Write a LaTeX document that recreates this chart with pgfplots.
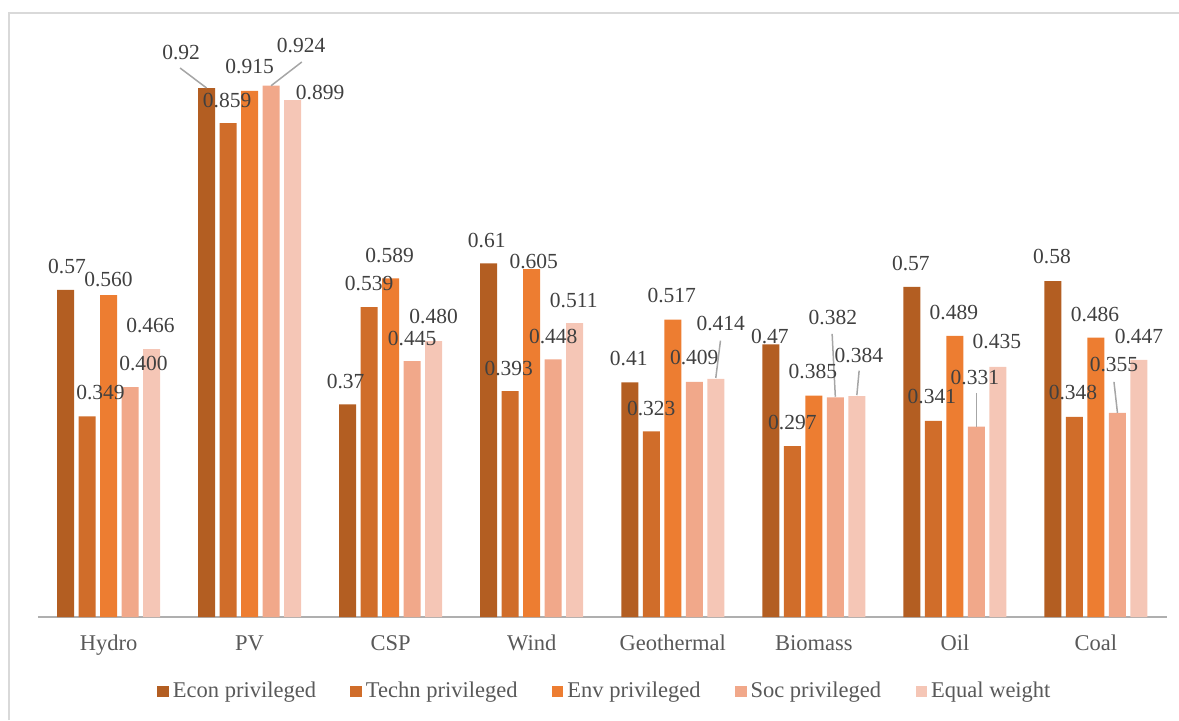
\documentclass[border=0pt]{standalone}
\usepackage{fontspec}
\setmainfont{Liberation Serif}
\usepackage{pgfplots}
\usepackage{pgfplotstable}
\pgfplotsset{compat=1.18}

\definecolor{econ}{HTML}{B35E22}
\definecolor{techn}{HTML}{D06D2A}
\definecolor{env}{HTML}{ED7D31}
\definecolor{soc}{HTML}{F1A88A}
\definecolor{equal}{HTML}{F5C6B6}
\definecolor{lbl}{HTML}{404040}
\definecolor{cat}{HTML}{595959}
\definecolor{axisgray}{HTML}{AFAFAF}
\definecolor{bordergray}{HTML}{D9D9D9}
\definecolor{leadgray}{HTML}{A6A6A6}

% x y label dx(pt) dy(pt)
\pgfplotstableread{
x y label dx dy
0 0.569 0.57 0.75 11.5
1 0.920 0.92 -12.75 18
2 0.370 0.37 -1 11.5
3 0.615 0.61 -1 11.65
4 0.408 0.41 -0.5 11.85
5 0.474 0.47 -0.5 4.15
6 0.574 0.57 -0.5 11.5
7 0.584 0.58 -0.5 12.25
}\econdata
\pgfplotstableread{
x y label dx dy
0 0.349 0.349 6.75 12
1 0.859 0.859 -0.5 11.5
2 0.539 0.539 0 11.75
3 0.393 0.393 -0.75 11.5
4 0.323 0.323 0 11.5
5 0.297 0.297 0 12
6 0.341 0.341 -0.75 12
7 0.348 0.348 -0.75 12
}\techndata
\pgfplotstableread{
x y label dx dy
0 0.560 0.560 0 7.75
1 0.915 0.915 0 12
2 0.589 0.589 -0.5 11.5
3 0.605 0.605 1 4
4 0.517 0.517 -0.5 12
5 0.385 0.385 -0.5 12
6 0.489 0.489 -0.5 11.5
7 0.486 0.486 -0.5 11.75
}\envdata
\pgfplotstableread{
x y label dx dy
0 0.400 0.400 6.75 12
1 0.924 0.924 15 20
2 0.445 0.445 0 11.5
3 0.448 0.448 0 11.5
4 0.409 0.409 0 12
5 0.382 0.382 -1.25 40
6 0.331 0.331 -0.75 24.5
7 0.355 0.355 -1.75 24
}\socdata
\pgfplotstableread{
x y label dx dy
0 0.466 0.466 -0.5 12
1 0.899 0.899 13.75 4
2 0.480 0.480 0 12.5
3 0.511 0.511 -0.5 11.5
4 0.414 0.414 2.5 27.5
5 0.384 0.384 1 20.5
6 0.435 0.435 -0.5 12.5
7 0.447 0.447 0 11.5
}\equaldata

\begin{document}
\begin{tikzpicture}
\useasboundingbox (-19pt,-51.5pt) rectangle (570.5pt,308.5pt);
\draw[bordergray, line width=1pt] (-14.5pt,-51.5pt) -- (-14.5pt,302pt) -- (570.5pt,302pt);
\begin{axis}[
  scale only axis,
  width=564.25pt, height=287.5pt,
  xmin=-0.5, xmax=7.5, ymin=0, ymax=1,
  clip=false,
  ybar,
  bar width=8.5pt,
  axis x line*=bottom,
  hide y axis,
  axis line style={axisgray, line width=1pt, -},
  xtick={0,...,7},
  xticklabels={Hydro,PV,CSP,Wind,Geothermal,Biomass,Oil,Coal},
  major tick length=0pt,
  xticklabel style={anchor=base, yshift=-16.5pt, font=\rmfamily\fontsize{11.25}{13}\selectfont, text=cat},
  nodes near coords,
  point meta=explicit symbolic,
  visualization depends on={\thisrow{dx} \as \dx},
  visualization depends on={\thisrow{dy} \as \dy},
  nodes near coords style={anchor=center, xshift=\dx pt, yshift=\dy pt, font=\rmfamily\fontsize{10.75}{12}\selectfont, text=lbl, inner sep=0pt},
  legend columns=5,
  legend image code/.code={\fill[#1] (0pt,-2.875pt) rectangle (5.75pt,2.875pt);},
  legend style={draw=none, at={(0.5033,-0.1296)}, anchor=center,
    font=\rmfamily\fontsize{11.25}{13}\selectfont, text=cat,
    /tikz/every even column/.append style={column sep=15.25pt}},
]
\addplot[fill=econ, draw=none, bar shift=-21.5pt] table[x=x, y=y, meta=label]{\econdata};
\addplot[fill=techn, draw=none, bar shift=-10.75pt] table[x=x, y=y, meta=label]{\techndata};
\addplot[fill=env, draw=none, bar shift=0pt] table[x=x, y=y, meta=label]{\envdata};
\addplot[fill=soc, draw=none, bar shift=10.75pt] table[x=x, y=y, meta=label]{\socdata};
\addplot[fill=equal, draw=none, bar shift=21.5pt] table[x=x, y=y, meta=label]{\equaldata};
\legend{Econ privileged, Techn privileged, Env privileged, Soc privileged, Equal weight}
% leader lines
\draw[leadgray, line width=0.75pt] ([shift={(-34.75pt,10pt)}]axis cs:1,0.920) -- ([shift={(-21.5pt,0pt)}]axis cs:1,0.920);
\draw[leadgray, line width=0.75pt] ([shift={(26.1pt,11.85pt)}]axis cs:1,0.924) -- ([shift={(10.75pt,0pt)}]axis cs:1,0.924);
\draw[leadgray, line width=0.75pt] ([shift={(23.85pt,19.15pt)}]axis cs:4,0.414) -- ([shift={(21.5pt,0.5pt)}]axis cs:4,0.414);
\draw[leadgray, line width=0.75pt] ([shift={(9.15pt,31.7pt)}]axis cs:5,0.382) -- ([shift={(10.75pt,0.3pt)}]axis cs:5,0.382);
\draw[leadgray, line width=0.75pt] ([shift={(22.65pt,12.75pt)}]axis cs:5,0.384) -- ([shift={(21.5pt,0.5pt)}]axis cs:5,0.384);
\draw[leadgray, line width=0.75pt] ([shift={(10.75pt,16.85pt)}]axis cs:6,0.331) -- ([shift={(10.75pt,0pt)}]axis cs:6,0.331);
\draw[leadgray, line width=0.75pt] ([shift={(9pt,15.5pt)}]axis cs:7,0.355) -- ([shift={(10.75pt,0pt)}]axis cs:7,0.355);
\end{axis}
\end{tikzpicture}
\end{document}
